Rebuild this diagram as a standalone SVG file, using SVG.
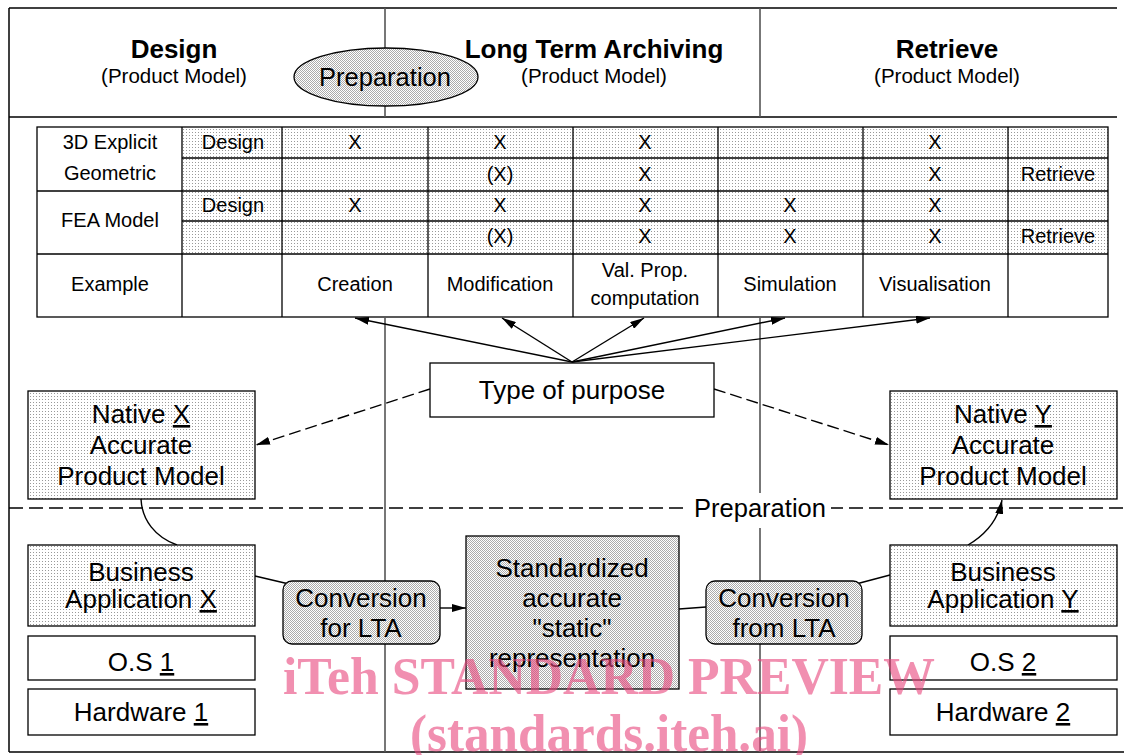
<svg xmlns="http://www.w3.org/2000/svg" width="1124" height="755" viewBox="0 0 1124 755">
<style>
  text { font-family: "Liberation Sans", Arial, sans-serif; fill: #000; text-anchor: middle; }
  .hd { font-size: 26px; font-weight: bold; }
  .sub { font-size: 20.5px; }
  .tb { font-size: 20px; }
  .lb { font-size: 26px; }
  .u { text-decoration: underline; }
  .frame { stroke: #000; stroke-width: 1.5; fill: none; }
  .vline { stroke: #555; stroke-width: 1.6; fill: none; }
  .grid { stroke: #000; stroke-width: 1.3; fill: none; }
  .box { stroke: #000; stroke-width: 1.3; }
  .con { stroke: #000; stroke-width: 1.4; fill: none; }
  .dash { stroke-dasharray: 12 5; }
  .wm { font-family: "Liberation Serif", "Times New Roman", serif; font-weight: bold; font-size: 52px; fill: #e8467c; opacity: 0.6; }
</style>
<defs>
  <pattern id="dots" width="3" height="3" patternUnits="userSpaceOnUse">
    <rect width="3" height="3" fill="#fff"/>
    <rect width="1" height="1" fill="#999"/>
  </pattern>
  <pattern id="dense" width="2" height="2" patternUnits="userSpaceOnUse">
    <rect width="2" height="2" fill="#fff"/>
    <rect width="1" height="1" fill="#ababab"/>
    <rect x="1" y="1" width="1" height="1" fill="#ababab"/>
  </pattern>
  <marker id="arr" viewBox="0 0 14 8" refX="14" refY="4" markerWidth="14" markerHeight="8" orient="auto" markerUnits="userSpaceOnUse">
    <path d="M0,0 L14,4 L0,8 z" fill="#000"/>
  </marker>
</defs>

<rect width="1124" height="755" fill="#fff"/>

<g id="frame">
  <line class="frame" x1="9" y1="8" x2="1117" y2="8"/>
  <line class="frame" x1="9" y1="117" x2="1117" y2="117"/>
  <line class="frame" x1="9" y1="752" x2="1124" y2="752"/>
  <line class="frame" x1="9" y1="8" x2="9" y2="752"/>
  <line class="vline" x1="385" y1="8" x2="385" y2="117"/>
  <line class="vline" x1="760" y1="8" x2="760" y2="117"/>
  <line class="vline" x1="385" y1="318" x2="385" y2="752"/>
  <line class="vline" x1="760" y1="318" x2="760" y2="752"/>
  <line class="frame" x1="9" y1="508" x2="1124" y2="508" stroke-dasharray="14 6"/>
</g>

<g id="header">
  <text class="hd" x="174" y="58">Design</text>
  <text class="sub" x="174" y="83">(Product Model)</text>
  <text class="hd" x="594" y="58">Long Term Archiving</text>
  <text class="sub" x="594" y="83">(Product Model)</text>
  <text class="hd" x="947" y="58">Retrieve</text>
  <text class="sub" x="947" y="83">(Product Model)</text>
</g>

<g id="preparation-ellipse">
  <ellipse cx="386" cy="77" rx="92" ry="29" fill="url(#dense)" stroke="#000" stroke-width="1.3"/>
  <text class="lb" x="385" y="86" style="font-size:25.5px">Preparation</text>
</g>

<g id="table">
  <rect x="37" y="127" width="1071" height="190" fill="#fff"/>
  <rect x="182" y="127" width="926" height="127" fill="url(#dots)"/>
  <rect class="grid" x="37" y="127" width="1071" height="190"/>
  <line class="grid" x1="182" y1="158" x2="1108" y2="158"/>
  <line class="grid" x1="37" y1="191" x2="1108" y2="191"/>
  <line class="grid" x1="182" y1="221" x2="1108" y2="221"/>
  <line class="grid" x1="37" y1="254" x2="1108" y2="254"/>
  <line class="grid" x1="182" y1="127" x2="182" y2="317"/>
  <line class="grid" x1="282" y1="127" x2="282" y2="317"/>
  <line class="grid" x1="428" y1="127" x2="428" y2="317"/>
  <line class="grid" x1="573" y1="127" x2="573" y2="317"/>
  <line class="grid" x1="718" y1="127" x2="718" y2="317"/>
  <line class="grid" x1="863" y1="127" x2="863" y2="317"/>
  <line class="grid" x1="1008" y1="127" x2="1008" y2="317"/>
  <g class="tb">
    <text class="tb" x="110" y="149">3D Explicit</text>
    <text class="tb" x="110" y="180">Geometric</text>
    <text class="tb" x="110" y="227">FEA Model</text>
    <text class="tb" x="110" y="291">Example</text>
    <text class="tb" x="233" y="149">Design</text>
    <text class="tb" x="233" y="212">Design</text>
    <text class="tb" x="355" y="149">X</text>
    <text class="tb" x="355" y="212">X</text>
    <text class="tb" x="500" y="149">X</text>
    <text class="tb" x="500" y="181">(X)</text>
    <text class="tb" x="500" y="212">X</text>
    <text class="tb" x="500" y="243">(X)</text>
    <text class="tb" x="645" y="149">X</text>
    <text class="tb" x="645" y="181">X</text>
    <text class="tb" x="645" y="212">X</text>
    <text class="tb" x="645" y="243">X</text>
    <text class="tb" x="790" y="212">X</text>
    <text class="tb" x="790" y="243">X</text>
    <text class="tb" x="935" y="149">X</text>
    <text class="tb" x="935" y="181">X</text>
    <text class="tb" x="935" y="212">X</text>
    <text class="tb" x="935" y="243">X</text>
    <text class="tb" x="1058" y="181">Retrieve</text>
    <text class="tb" x="1058" y="243">Retrieve</text>
    <text class="tb" x="355" y="291">Creation</text>
    <text class="tb" x="500" y="291">Modification</text>
    <text class="tb" x="645" y="277">Val. Prop.</text>
    <text class="tb" x="645" y="305">computation</text>
    <text class="tb" x="790" y="291">Simulation</text>
    <text class="tb" x="935" y="291">Visualisation</text>
  </g>
</g>

<g id="connectors">
  <line class="con" x1="572" y1="362" x2="355" y2="318" marker-end="url(#arr)"/>
  <line class="con" x1="572" y1="362" x2="502" y2="318" marker-end="url(#arr)"/>
  <line class="con" x1="572" y1="362" x2="644" y2="318" marker-end="url(#arr)"/>
  <line class="con" x1="572" y1="362" x2="785" y2="318" marker-end="url(#arr)"/>
  <line class="con" x1="572" y1="362" x2="930" y2="318" marker-end="url(#arr)"/>
  <line class="con dash" x1="430" y1="389" x2="256" y2="445" marker-end="url(#arr)"/>
  <line class="con dash" x1="714" y1="389" x2="889" y2="445" marker-end="url(#arr)"/>
  <path class="con" d="M141,499 C142,520 155,537 177,545"/>
  <path class="con" d="M968,545 C985,535 998,520 1002,500" marker-end="url(#arr)"/>
  <line class="con" x1="255" y1="576" x2="289" y2="584"/>
  <line class="con" x1="440" y1="608" x2="466" y2="608" marker-end="url(#arr)"/>
  <line class="con" x1="679" y1="609" x2="706" y2="607"/>
  <line class="con" x1="856" y1="584" x2="890" y2="575"/>
</g>

<g id="prep-label">
  <rect x="688" y="493" width="143" height="35" fill="#fff"/>
  <text class="lb" x="760" y="517" style="font-size:25.5px">Preparation</text>
</g>

<g id="type-of-purpose">
  <rect class="box" x="430" y="363" width="284" height="54" fill="#fff"/>
  <text class="lb" x="572" y="399">Type of purpose</text>
</g>

<g id="native-x">
  <rect class="box" x="28" y="391" width="227" height="108" fill="url(#dots)"/>
  <text class="lb" x="141" y="423">Native <tspan class="u">X</tspan></text>
  <text class="lb" x="141" y="454">Accurate</text>
  <text class="lb" x="141" y="485">Product Model</text>
</g>

<g id="native-y">
  <rect class="box" x="890" y="391" width="227" height="108" fill="url(#dots)"/>
  <text class="lb" x="1003" y="423">Native <tspan class="u">Y</tspan></text>
  <text class="lb" x="1003" y="454">Accurate</text>
  <text class="lb" x="1003" y="485">Product Model</text>
</g>

<g id="business-x">
  <rect class="box" x="28" y="545" width="227" height="81" fill="url(#dots)"/>
  <text class="lb" x="141" y="581">Business</text>
  <text class="lb" x="141" y="608">Application <tspan class="u">X</tspan></text>
</g>

<g id="os-1">
  <rect class="box" x="28" y="636" width="227" height="44" fill="#fff"/>
  <text class="lb" x="141" y="671">O.S <tspan class="u">1</tspan></text>
</g>

<g id="hardware-1">
  <rect class="box" x="28" y="689" width="227" height="46" fill="#fff"/>
  <text class="lb" x="141" y="721">Hardware <tspan class="u">1</tspan></text>
</g>

<g id="conversion-for-lta">
  <rect class="box" x="283" y="581" width="157" height="63" rx="9" fill="url(#dense)"/>
  <text class="lb" x="361" y="607">Conversion</text>
  <text class="lb" x="361" y="637">for LTA</text>
</g>

<g id="standardized">
  <rect class="box" x="466" y="536" width="213" height="153" fill="url(#dense)"/>
  <text class="lb" x="572" y="577">Standardized</text>
  <text class="lb" x="572" y="607">accurate</text>
  <text class="lb" x="572" y="637">"static"</text>
  <text class="lb" x="572" y="667">representation</text>
</g>

<g id="conversion-from-lta">
  <rect class="box" x="706" y="581" width="156" height="63" rx="9" fill="url(#dense)"/>
  <text class="lb" x="784" y="607">Conversion</text>
  <text class="lb" x="784" y="637">from LTA</text>
</g>

<g id="business-y">
  <rect class="box" x="890" y="545" width="227" height="81" fill="url(#dots)"/>
  <text class="lb" x="1003" y="581">Business</text>
  <text class="lb" x="1003" y="608">Application <tspan class="u">Y</tspan></text>
</g>

<g id="os-2">
  <rect class="box" x="890" y="636" width="227" height="44" fill="#fff"/>
  <text class="lb" x="1003" y="671">O.S <tspan class="u">2</tspan></text>
</g>

<g id="hardware-2">
  <rect class="box" x="890" y="689" width="227" height="46" fill="#fff"/>
  <text class="lb" x="1003" y="721">Hardware <tspan class="u">2</tspan></text>
</g>

<g id="watermark">
  <text class="wm" x="609" y="694" textLength="652" lengthAdjust="spacingAndGlyphs">iTeh STANDARD PREVIEW</text>
  <text class="wm" x="609" y="751" textLength="398" lengthAdjust="spacingAndGlyphs">(standards.iteh.ai)</text>
</g>
</svg>
